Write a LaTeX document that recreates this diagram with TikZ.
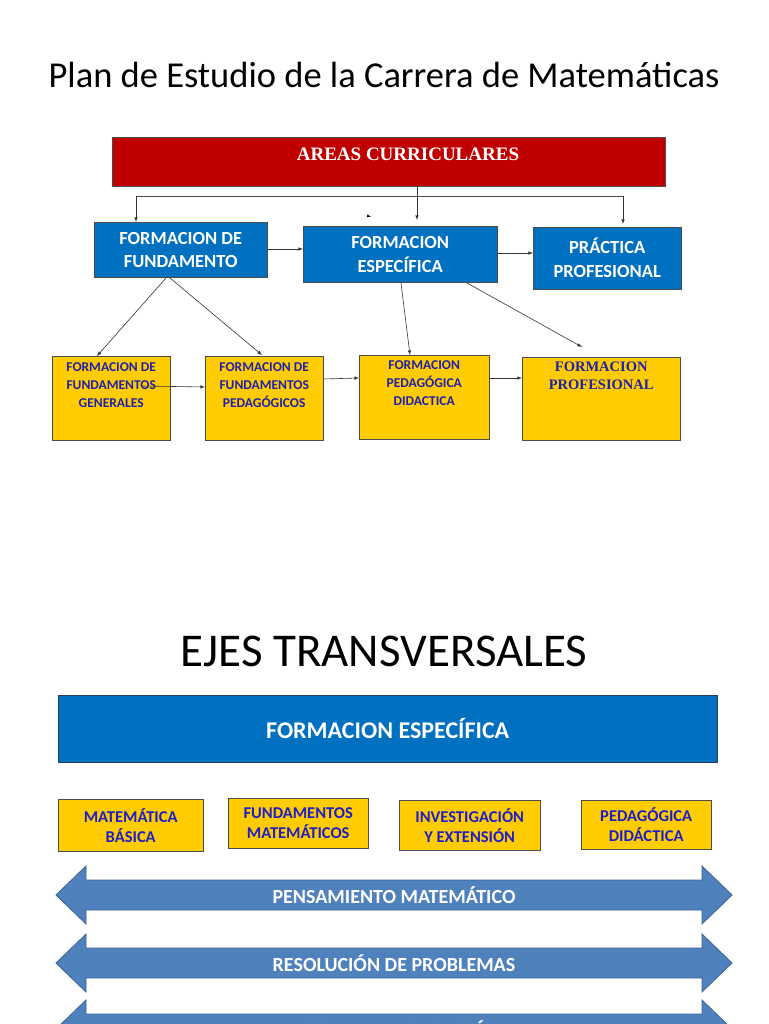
\documentclass[tikz,border=0pt]{standalone}
\usepackage{fontspec}
\setmainfont{Carlito}
\newfontfamily\serifb{Liberation Serif}
\begin{document}
\begin{tikzpicture}[x=1pt,y=-1pt,
  bluebox/.style={draw=black!70,fill={rgb,255:red,0;green,112;blue,192},text=white,font=\bfseries\fontsize{18.5}{23}\selectfont,align=center,inner sep=0pt,anchor=north west},
  yelbox/.style={draw=black!70,fill={rgb,255:red,255;green,204;blue,0},text={rgb,255:red,32;green,32;blue,170},font=\bfseries\fontsize{13.5}{18}\selectfont,align=center,inner sep=0pt,anchor=north west},
  ybox2/.style={draw=black!70,fill={rgb,255:red,255;green,204;blue,0},text={rgb,255:red,30;green,30;blue,200},font=\bfseries\fontsize{16.5}{20}\selectfont,align=center,inner sep=0pt,anchor=north west},
  con/.style={-latex,black!80,line width=0.6pt},
  dbl/.style={fill={rgb,255:red,79;green,129;blue,189},draw={rgb,255:red,60;green,100;blue,150},line width=0.8pt}]
\clip (0,0) rectangle (768,1024);
\fill[white] (0,0) rectangle (768,1024);
\node (title) at (384,75) {\fontsize{36.5}{42}\selectfont Plan de Estudio de la Carrera de Matemáticas};
\node[draw=black!70,fill={rgb,255:red,192;green,0;blue,0},minimum width=553pt,minimum height=49pt,anchor=north west,inner sep=0pt] (ac) at (112,137) {};
\node[text=white,font=\serifb\bfseries\fontsize{19}{22}\selectfont] (act) at (408,154) {AREAS CURRICULARES};
\node[bluebox,minimum width=173pt,minimum height=55pt] (ff) at (94,222) {FORMACION DE\\FUNDAMENTO};
\node[bluebox,minimum width=194pt,minimum height=56pt,font=\bfseries\fontsize{18.5}{24}\selectfont] (fe) at (303,226) {FORMACION\\ESPECÍFICA};
\node[bluebox,minimum width=148pt,minimum height=62pt,font=\bfseries\fontsize{18.5}{24}\selectfont] (pp) at (533,227) {PRÁCTICA\\PROFESIONAL};
\node[yelbox,minimum width=118pt,minimum height=84pt] (fg) at (52,356) {};
\node[yelbox,minimum width=118pt,minimum height=84pt] (fp) at (205,356) {};
\node[yelbox,minimum width=130pt,minimum height=84pt] (fd) at (359,355) {};
\node[yelbox,minimum width=158pt,minimum height=83pt] (fr) at (522,357) {};
\node[yelbox,draw=none,fill=none] (fgt) at ([yshift=-6pt]fg.north) [anchor=north] {FORMACION DE\\FUNDAMENTOS\\GENERALES};
\node[yelbox,draw=none,fill=none] (fpt) at ([yshift=-6pt]fp.north) [anchor=north] {FORMACION DE\\FUNDAMENTOS\\PEDAGÓGICOS};
\node[yelbox,draw=none,fill=none] (fdt) at ([yshift=-5pt]fd.north) [anchor=north] {FORMACION\\PEDAGÓGICA\\DIDACTICA};
\node[yelbox,draw=none,fill=none,font=\serifb\bfseries\fontsize{14.5}{18}\selectfont] (frt) at ([yshift=-5pt]fr.north) [anchor=north] {FORMACION\\PROFESIONAL};
\coordinate (h1) at (136,196); \coordinate (h2) at (623,196);
\draw[black!70,line width=0.6pt] (h1) -- (h2);
\draw[con] (h1) -- (ff.north west -| h1);
\draw[con] (h2) -- (623,224);
\draw[con] (ac.south -| 417,0) -- (417,220);
\draw[-latex,black] (368,216) -- (371,217);
\draw[con] (ff.east |- 0,249) -- (fe.west |- 0,249);
\draw[con] (fe.east |- 0,253) -- (pp.west |- 0,253);
\draw[con] (166,278) -- (97,356);
\draw[con] (170,278) -- (262,355);
\draw[con] (401,283) -- (410,355);
\draw[con] (467,283) -- (582,347);
\coordinate (s1) at (142,386); \draw[con] (s1) -- (fp.west |- 0,387);
\coordinate (s2) at (323,379); \draw[con] (s2) -- (fd.west |- 0,378);
\draw[con] (fd.east |- 0,378) -- (fr.west |- 0,378);
\node (ejes) at (384,651) {\fontsize{47}{54}\selectfont EJES TRANSVERSALES};
\node[bluebox,minimum width=659pt,minimum height=67pt,font=\bfseries\fontsize{24}{28}\selectfont,draw={rgb,255:red,40;green,60;blue,100}] (feb) at (58,695) {\raisebox{-4pt}{FORMACION ESPECÍFICA}};
\node[ybox2,minimum width=145pt,minimum height=52pt] (mb) at (58,799) {MATEMÁTICA\\BÁSICA};
\node[ybox2,minimum width=140pt,minimum height=50pt] (fm) at (228,798) {FUNDAMENTOS\\MATEMÁTICOS};
\node[ybox2,minimum width=141pt,minimum height=50pt] (ie) at (399,800) {INVESTIGACIÓN\\Y EXTENSIÓN};
\node[ybox2,minimum width=130pt,minimum height=49pt] (pd) at (581,800) {PEDAGÓGICA\\DIDÁCTICA};
\foreach \c/\t/\n in {895/PENSAMIENTO MATEMÁTICO/a1,963/RESOLUCIÓN DE PROBLEMAS/a2,1029/USO DE LA TECNOLOGÍA/a3}{
  \draw[dbl] (56,\c) -- (86,\c-29) -- (86,\c-15) -- (702,\c-15) -- (702,\c-29) -- (732,\c) -- (702,\c+29) -- (702,\c+15) -- (86,\c+15) -- (86,\c+29) -- cycle;
  \node[text=white,font=\bfseries\fontsize{20}{24}\selectfont] (\n) at (394,\c) {\t};
}
\end{tikzpicture}
\end{document}
